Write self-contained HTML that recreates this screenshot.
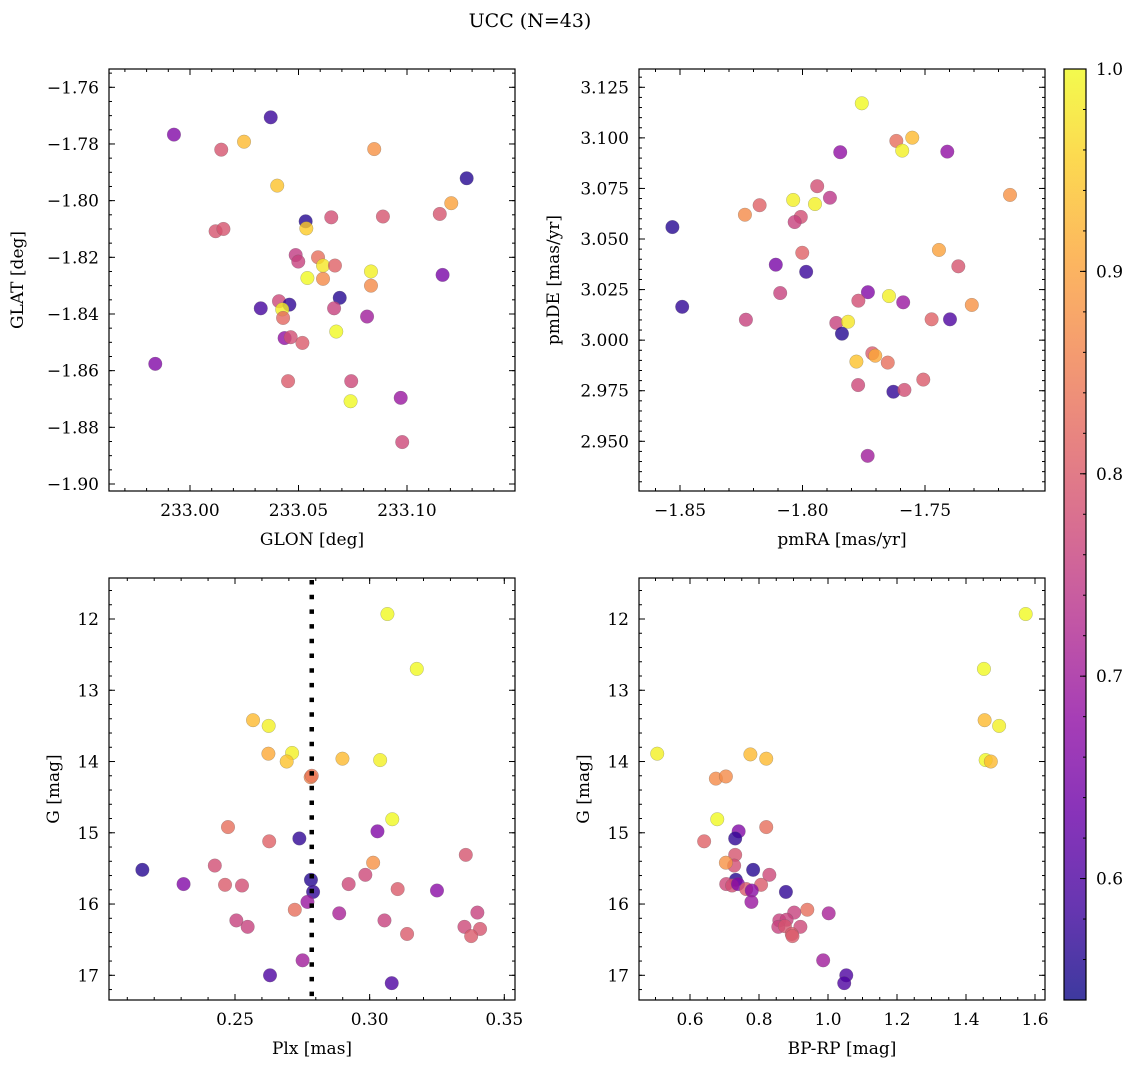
<!DOCTYPE html>
<html><head><meta charset="utf-8"><style>
html,body{margin:0;padding:0;background:#fff;}
svg text{font-family:"DejaVu Serif","Liberation Serif",serif;fill:#000;}
</style></head><body>
<svg id="chart" xmlns="http://www.w3.org/2000/svg" width="1136" height="1068" viewBox="0 0 1136 1068">
<defs>
<linearGradient id="plasmaGrad" x1="0" y1="1" x2="0" y2="0"></linearGradient>
</defs>
<text x="530" y="27" font-size="19" text-anchor="middle">UCC (N=43)</text>
</svg>
<script>
// ---- data ----
const tlGlon=[232.9926,233.0372,233.0249,233.0144,233.0849,233.1275,233.0402,233.1204,233.1151,233.0651,233.0889,233.0533,233.0536,233.0118,233.0154,233.0487,233.0499,233.0590,233.0613,233.0668,233.0541,233.0613,233.0834,233.0834,233.1164,233.0410,233.0458,233.0425,233.0429,233.0326,233.0690,233.0664,233.0816,233.0674,233.0436,233.0464,233.0518,232.9840,233.0452,233.0743,233.0740,233.0971,233.0978];
const tlGlat=[-1.7767,-1.7706,-1.7792,-1.7820,-1.7818,-1.7921,-1.7947,-1.8009,-1.8047,-1.8059,-1.8056,-1.8073,-1.8098,-1.8108,-1.8100,-1.8192,-1.8215,-1.8200,-1.8229,-1.8229,-1.8273,-1.8276,-1.8250,-1.8300,-1.8262,-1.8355,-1.8367,-1.8384,-1.8414,-1.8380,-1.8343,-1.8380,-1.8409,-1.8462,-1.8485,-1.8482,-1.8502,-1.8576,-1.8637,-1.8637,-1.8708,-1.8696,-1.8852];
const tlProb=[0.66,0.58,0.93,0.79,0.88,0.56,0.94,0.90,0.79,0.78,0.79,0.56,0.95,0.79,0.79,0.75,0.76,0.83,0.98,0.81,1.0,0.87,0.99,0.87,0.65,0.77,0.57,0.99,0.82,0.59,0.56,0.76,0.70,1.0,0.68,0.78,0.80,0.66,0.80,0.77,1.0,0.69,0.77];

const trPmra=[-1.7758,-1.7617,-1.7552,-1.7593,-1.7846,-1.7409,-1.7940,-1.7888,-1.8038,-1.7949,-1.7153,-1.8175,-1.8235,-1.8007,-1.8032,-1.8531,-1.8001,-1.7443,-1.7364,-1.8109,-1.7985,-1.8091,-1.7733,-1.7647,-1.7772,-1.7589,-1.7309,-1.8491,-1.8231,-1.7473,-1.7398,-1.7862,-1.7814,-1.7839,-1.7715,-1.7703,-1.7780,-1.7652,-1.7507,-1.7773,-1.7629,-1.7584,-1.7734];
const trPmde=[3.1171,3.0985,3.1001,3.0937,3.0929,3.0932,3.0761,3.0704,3.0693,3.0673,3.0718,3.0667,3.0620,3.0609,3.0584,3.0559,3.0432,3.0446,3.0365,3.0373,3.0338,3.0233,3.0237,3.0218,3.0195,3.0187,3.0174,3.0165,3.0101,3.0103,3.0103,3.0085,3.0091,3.0032,2.9935,2.9923,2.9894,2.9889,2.9805,2.9778,2.9745,2.9754,2.9428];
const trProb=[1.0,0.83,0.93,0.99,0.68,0.68,0.78,0.74,0.99,0.99,0.88,0.81,0.87,0.78,0.76,0.56,0.81,0.90,0.79,0.65,0.58,0.76,0.66,0.99,0.78,0.69,0.88,0.57,0.76,0.81,0.60,0.76,0.98,0.56,0.80,0.91,0.94,0.83,0.80,0.77,0.57,0.78,0.70];

const blPlx=[0.3066,0.3175,0.2567,0.2625,0.2624,0.2712,0.2692,0.2899,0.3039,0.2781,0.3084,0.2474,0.3029,0.2739,0.2627,0.3357,0.2425,0.2156,0.3013,0.2984,0.2782,0.2309,0.2463,0.2526,0.2922,0.3104,0.3250,0.2790,0.2769,0.2722,0.2887,0.3400,0.2505,0.3055,0.2547,0.3352,0.3410,0.3139,0.3377,0.2751,0.2630,0.3082,0.2785];
const blG=[11.93,12.70,13.42,13.50,13.89,13.88,14.00,13.96,13.98,14.22,14.81,14.92,14.98,15.08,15.12,15.31,15.46,15.52,15.42,15.59,15.66,15.72,15.73,15.74,15.72,15.79,15.81,15.83,15.97,16.08,16.13,16.12,16.23,16.23,16.32,16.32,16.35,16.42,16.45,16.79,17.00,17.11,14.20];
const blProb=[1.0,1.0,0.93,0.99,0.91,0.99,0.94,0.93,0.99,0.86,1.0,0.83,0.66,0.57,0.81,0.79,0.78,0.56,0.88,0.77,0.56,0.66,0.80,0.78,0.77,0.80,0.67,0.57,0.69,0.83,0.71,0.76,0.76,0.76,0.76,0.77,0.79,0.80,0.80,0.70,0.60,0.60,0.84];

const brBprp=[1.573,1.452,1.454,1.496,0.505,0.775,0.821,1.457,1.472,0.675,0.704,0.679,0.821,0.741,0.731,0.641,0.731,0.728,0.704,0.783,0.830,0.733,0.705,0.722,0.806,0.739,0.763,0.779,0.878,0.778,0.940,1.002,0.902,0.859,0.880,0.856,0.920,0.875,0.895,0.897,0.986,1.053,1.047];
const brG=[11.93,12.70,13.42,13.50,13.89,13.90,13.96,13.98,14.00,14.24,14.21,14.81,14.92,14.98,15.08,15.12,15.31,15.46,15.42,15.52,15.59,15.66,15.72,15.74,15.73,15.72,15.79,15.81,15.83,15.97,16.08,16.13,16.12,16.23,16.22,16.32,16.32,16.31,16.42,16.45,16.79,17.00,17.11];
const brProb=[1.0,1.0,0.93,0.99,0.99,0.93,0.93,1.0,0.93,0.87,0.87,1.0,0.83,0.66,0.57,0.81,0.79,0.78,0.88,0.56,0.77,0.56,0.77,0.78,0.80,0.66,0.80,0.67,0.57,0.69,0.83,0.71,0.76,0.76,0.76,0.76,0.77,0.79,0.80,0.80,0.70,0.60,0.60];

const plxLine=[0.2785];
const cbTicks=[0.6,0.7,0.8,0.9,1.0];
const cMin=0.54, cMax=1.0;

// ---- helpers ----
const NS="http://www.w3.org/2000/svg";
const svg=document.getElementById('chart');
function mk(tag,attrs,parent){const e=document.createElementNS(NS,tag);for(const k in attrs)e.setAttribute(k,attrs[k]);(parent||svg).appendChild(e);return e;}
function lin(d0,d1,r0,r1){const f=v=>r0+(v-d0)*(r1-r0)/(d1-d0);f.inv=p=>d0+(p-r0)*(d1-d0)/(r1-r0);return f;}
const plasma=[[13,8,135],[65,4,157],[106,0,168],[143,13,164],[177,42,144],[204,71,120],[225,100,98],[242,132,75],[252,166,54],[252,206,37],[240,249,33]];
function cmapT(t){t=Math.max(0,Math.min(1,t));const s=t*10,i=Math.min(9,Math.floor(s)),f=s-i;const a=plasma[i],b=plasma[i+1];return `rgb(${Math.round(a[0]+(b[0]-a[0])*f)},${Math.round(a[1]+(b[1]-a[1])*f)},${Math.round(a[2]+(b[2]-a[2])*f)})`;}
function cmap(c){return cmapT((c-cMin)/(cMax-cMin));}
function fmt(v,dec){const s=Math.abs(v).toFixed(dec);return (v<0?'\u2212':'')+s;}
function range(a,b,step){const out=[];const s=Math.ceil(a/step-1e-6);for(let k=s;k*step<=b+1e-9;k++)out.push(+(k*step).toFixed(6));return out;}

const grad=document.getElementById('plasmaGrad');
for(let k=0;k<=20;k++){mk('stop',{offset:k/20,'stop-color':cmapT(k/20),'stop-opacity':0.8},grad);}

function panel(cfg){
  const {x0,y0,w,h,xs,ys,xMajor,xMinor,yMajor,yMinor,xDec,yDec,xLabel,yLabel,yLabelX,name}=cfg;
  const g=mk('g',{});
  
  
  const xa=xs.inv(x0),xb=xs.inv(x0+w),ya=ys.inv(y0+h),yb=ys.inv(y0);
  const lo=(a,b)=>[Math.min(a,b),Math.max(a,b)];
  const [xl,xh]=lo(xa,xb),[yl,yh]=lo(ya,yb);
  cfg.xv.forEach((v,i)=>{
    const c=mk('circle',{cx:xs(v),cy:ys(cfg.yv[i]),r:6.8,fill:cmap(cfg.cv[i]),'fill-opacity':0.8,stroke:'#666','stroke-width':0.4,'stroke-opacity':0.6},g);
    
    
  });
  if(cfg.extra)cfg.extra(g);
  const tk=mk('g',{stroke:'#000','stroke-width':1},g);
  range(xl,xh,xMinor).forEach(v=>{const p=xs(v);mk('line',{x1:p,x2:p,y1:y0+h,y2:y0+h-3},tk);mk('line',{x1:p,x2:p,y1:y0,y2:y0+3},tk);});
  range(xl,xh,xMajor).forEach(v=>{const p=xs(v);mk('line',{x1:p,x2:p,y1:y0+h,y2:y0+h-6},tk);mk('line',{x1:p,x2:p,y1:y0,y2:y0+6},tk);
    const t=mk('text',{x:p,y:y0+h+25,'font-size':17,'text-anchor':'middle'},g);t.textContent=fmt(v,xDec);
    
    });
  range(yl,yh,yMinor).forEach(v=>{const p=ys(v);mk('line',{x1:x0,x2:x0+3,y1:p,y2:p},tk);mk('line',{x1:x0+w,x2:x0+w-3,y1:p,y2:p},tk);});
  range(yl,yh,yMajor).forEach(v=>{const p=ys(v);mk('line',{x1:x0,x2:x0+6,y1:p,y2:p},tk);mk('line',{x1:x0+w,x2:x0+w-6,y1:p,y2:p},tk);
    const t=mk('text',{x:x0-10,y:p+6,'font-size':17,'text-anchor':'end'},g);t.textContent=fmt(v,yDec);
    
    });
  const fr=mk('rect',{x:x0,y:y0,width:w,height:h,fill:'none',stroke:'#000','stroke-width':1.2},g);
  
  
  const xt=mk('text',{x:x0+w/2,y:y0+h+54,'font-size':17,'text-anchor':'middle'},g);xt.textContent=xLabel;
  
  
  const yt=mk('text',{x:yLabelX,y:y0+h/2,'font-size':17,'text-anchor':'middle',transform:`rotate(-90 ${yLabelX} ${y0+h/2})`},g);yt.textContent=yLabel;
  
  
}

panel({name:'glon-glat-panel',x0:109,y0:69,w:406,h:422,xs:lin(233,233.1,190,407),ys:lin(-1.76,-1.90,87.3,484),
  xMajor:0.05,xMinor:0.01,yMajor:0.02,yMinor:0.005,xDec:2,yDec:2,xLabel:'GLON [deg]',yLabel:'GLAT [deg]',yLabelX:23,
  xv:tlGlon,yv:tlGlat,cv:tlProb});
panel({name:'pm-panel',x0:639,y0:69,w:406,h:422,xs:lin(-1.85,-1.75,680,925),ys:lin(3.125,2.95,87.3,441.3),
  xMajor:0.05,xMinor:0.01,yMajor:0.025,yMinor:0.005,xDec:2,yDec:3,xLabel:'pmRA [mas/yr]',yLabel:'pmDE [mas/yr]',yLabelX:559,
  xv:trPmra,yv:trPmde,cv:trProb});
const blx=lin(0.25,0.35,235,504.3);
panel({name:'plx-g-panel',x0:109,y0:578,w:406,h:422,xs:blx,ys:lin(12,17,619,975.3),
  xMajor:0.05,xMinor:0.01,yMajor:1,yMinor:0.2,xDec:2,yDec:0,xLabel:'Plx [mas]',yLabel:'G [mag]',yLabelX:59,
  xv:blPlx,yv:blG,cv:blProb,
  extra:g=>{plxLine.forEach(v=>{const l=mk('line',{x1:blx(v),x2:blx(v),y1:580,y2:1000,stroke:'#000','stroke-width':4.5,'stroke-dasharray':'4.5 10.2'},g);
    
    });}});
panel({name:'cmd-panel',x0:639,y0:578,w:406,h:422,xs:lin(0.6,1.6,690,1035),ys:lin(12,17,619,975.3),
  xMajor:0.2,xMinor:0.05,yMajor:1,yMinor:0.2,xDec:1,yDec:0,xLabel:'BP-RP [mag]',yLabel:'G [mag]',yLabelX:589,
  xv:brBprp,yv:brG,cv:brProb});

const cb=mk('g',{});


const cy=lin(cMin,cMax,1000,69);
mk('rect',{x:1064,y:69,width:22,height:931,fill:'url(#plasmaGrad)'},cb);
range(0.55,1.0,0.02).forEach(v=>{mk('line',{x1:1086,x2:1083,y1:cy(v),y2:cy(v),stroke:'#000'},cb);});
cbTicks.forEach(v=>{const p=cy(v);mk('line',{x1:1086,x2:1080,y1:p,y2:p,stroke:'#000'},cb);
  const t=mk('text',{x:1096,y:p+6,'font-size':17},cb);t.textContent=v.toFixed(1);
  
  });
mk('rect',{x:1064,y:69,width:22,height:931,fill:'none',stroke:'#000','stroke-width':1.2},cb);
</script>
</body></html>
